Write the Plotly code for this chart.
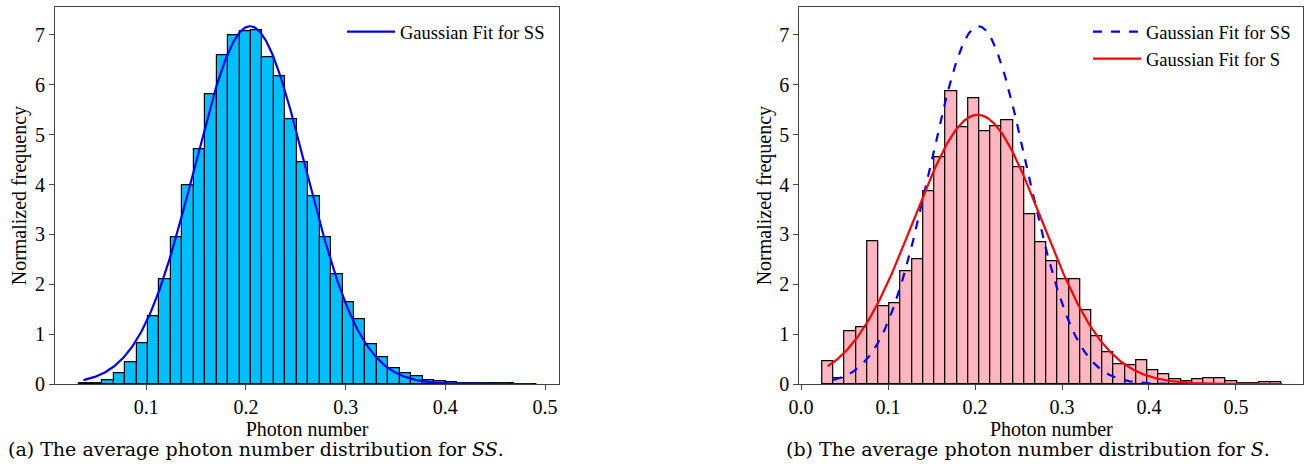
import numpy as np
import plotly.graph_objects as go

# ---------------- data ----------------
# (a) SS histogram: 40 bins
ss_bin_start = 0.0328
ss_bin_width = 0.01148
ss_density = [0.01, 0.02, 0.08, 0.21, 0.44, 0.82, 1.35, 2.10, 2.95, 3.99,
              4.71, 5.81, 6.59, 7.00, 7.07, 7.10, 6.55, 6.18, 5.31, 4.45,
              3.76, 2.95, 2.20, 1.64, 1.29, 0.79, 0.54, 0.32, 0.21, 0.15,
              0.08, 0.05, 0.03, 0.02, 0.01, 0.01, 0.005, 0.005, 0.003, 0.003]

# (b) S histogram: 41 bins
s_bin_start = 0.0245
s_bin_width = 0.01288
s_density = [0.46, 0.12, 1.06, 1.14, 2.87, 1.55, 1.62, 2.27, 2.50, 3.86,
             4.55, 5.88, 5.15, 5.72, 5.07, 5.16, 5.28, 4.34, 3.40, 2.85,
             2.47, 2.09, 2.09, 1.47, 0.96, 0.63, 0.40, 0.38, 0.47, 0.28,
             0.19, 0.09, 0.06, 0.09, 0.12, 0.12, 0.06, 0.02, 0.013, 0.03, 0.03]

# Gaussian fit parameters
ss_fit_mu, ss_fit_sigma, ss_fit_range = 0.204, 0.0556, (0.037, 0.486)
s_fit_mu, s_fit_sigma, s_fit_range = 0.203, 0.0739, (0.0307, 0.553)

x_ticks_a = [0.1, 0.2, 0.3, 0.4, 0.5]
x_ticks_b = [0.0, 0.1, 0.2, 0.3, 0.4, 0.5]
y_ticks = [0, 1, 2, 3, 4, 5, 6, 7]

caption_a = "(a) The average photon number distribution for <i>SS</i>."
caption_b = "(b) The average photon number distribution for <i>S</i>."


def centers(start, width, n):
    return [start + width * (i + 0.5) for i in range(n)]


def gauss(mu, sigma, rng):
    x = np.linspace(rng[0], rng[1], 400)
    y = np.exp(-(x - mu) ** 2 / (2 * sigma ** 2)) / (sigma * np.sqrt(2 * np.pi))
    return x, y


FONT = "Liberation Serif"
CAP_FONT = "DejaVu Serif"
W, H = 1305, 470
fig = go.Figure()

# ---- (a)
fig.add_trace(go.Bar(
    x=centers(ss_bin_start, ss_bin_width, len(ss_density)), y=ss_density,
    width=ss_bin_width, marker=dict(color="#00BFFF", line=dict(color="black", width=1.2)),
    showlegend=False, xaxis="x", yaxis="y"))
gx, gy = gauss(ss_fit_mu, ss_fit_sigma, ss_fit_range)
fig.add_trace(go.Scatter(x=gx, y=gy, mode="lines", name="Gaussian Fit for SS",
                         line=dict(color="#0000FF", width=2.2), xaxis="x", yaxis="y",
                         legend="legend"))

# ---- (b)
fig.add_trace(go.Bar(
    x=centers(s_bin_start, s_bin_width, len(s_density)), y=s_density,
    width=s_bin_width, marker=dict(color="#FFB6C1", line=dict(color="black", width=1.2)),
    showlegend=False, xaxis="x2", yaxis="y2"))
gx, gy = gauss(ss_fit_mu, ss_fit_sigma, ss_fit_range)
fig.add_trace(go.Scatter(x=gx, y=gy, mode="lines", name="Gaussian Fit for SS",
                         line=dict(color="#0000FF", width=2.2, dash="dash"),
                         xaxis="x2", yaxis="y2", legend="legend2"))
gx, gy = gauss(s_fit_mu, s_fit_sigma, s_fit_range)
fig.add_trace(go.Scatter(x=gx, y=gy, mode="lines", name="Gaussian Fit for S",
                         line=dict(color="#FF0000", width=2.2),
                         xaxis="x2", yaxis="y2", legend="legend2"))

axis_common = dict(showline=True, mirror=True, linecolor="#444", linewidth=1.2,
                   ticks="outside", ticklen=5, tickcolor="#444", showgrid=False,
                   zeroline=False, automargin=False,
                   tickfont=dict(family=FONT, size=20, color="black"),
                   title_font=dict(family=FONT, size=20, color="black"))

legend_common = dict(xanchor="left", yanchor="top", bgcolor="rgba(255,255,255,0)",
                     font=dict(family=FONT, size=18.5, color="black"),
                     tracegroupgap=0, itemwidth=48)

fig.update_layout(
    width=W, height=H,
    margin=dict(l=0, r=0, t=0, b=0, autoexpand=False),
    paper_bgcolor="white", plot_bgcolor="white",
    barmode="overlay", bargap=0,
    xaxis=dict(domain=[55 / W, 559.3 / W], range=[0.0084, 0.5143], tickvals=x_ticks_a,
               tickformat=".1f", title=dict(text="Photon number", standoff=0),
               anchor="y", **axis_common),
    yaxis=dict(domain=[1 - 384 / H, 1 - 7.3 / H], range=[0, 7.555], tickvals=y_ticks,
               title=dict(text="Normalized frequency", standoff=2), anchor="x",
               **axis_common),
    xaxis2=dict(domain=[799.3 / W, 1303.3 / W], range=[-0.002, 0.5774], tickvals=x_ticks_b,
                tickformat=".1f", title=dict(text="Photon number", standoff=0),
                anchor="y2", **axis_common),
    yaxis2=dict(domain=[1 - 384 / H, 1 - 7.3 / H], range=[0, 7.555], tickvals=y_ticks,
                title=dict(text="Normalized frequency", standoff=2), anchor="x2",
                **axis_common),
    legend=dict(x=342 / W, y=1 - 13 / H, **legend_common),
    legend2=dict(x=1088 / W, y=1 - 13 / H, **legend_common),
    annotations=[
        dict(text=caption_a, x=256 / W, y=1 - 449 / H, xref="paper", yref="paper",
             xanchor="center", yanchor="middle", showarrow=False,
             font=dict(family=CAP_FONT, size=19, color="black")),
        dict(text=caption_b, x=1028 / W, y=1 - 449 / H, xref="paper", yref="paper",
             xanchor="center", yanchor="middle", showarrow=False,
             font=dict(family=CAP_FONT, size=19, color="black")),
    ],
)

fig.write_html("out.html", config={"displayModeBar": False},
               post_script="document.body.style.margin='0';")
